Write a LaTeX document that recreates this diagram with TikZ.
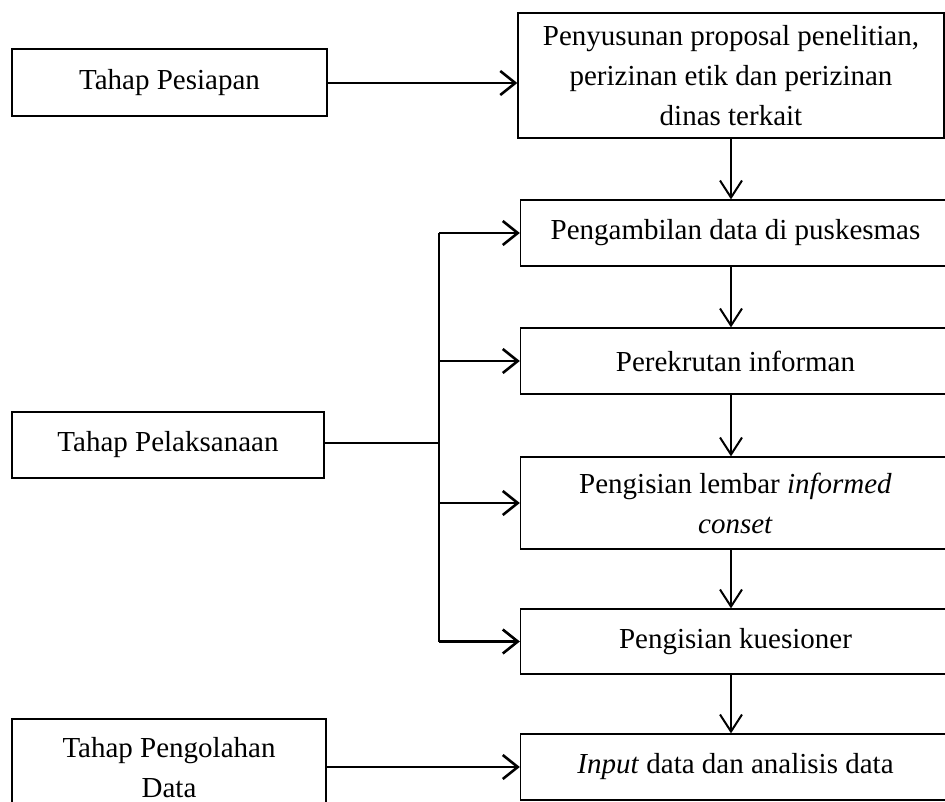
\documentclass[tikz,border=0pt]{standalone}
\usepackage{fontspec}
\setmainfont{Liberation Serif}
\usetikzlibrary{arrows.meta, positioning}

\tikzset{
	box/.style={draw, line width=1.3pt, inner sep=0pt, align=center,
		font=\fontsize{29}{40}\selectfont},
	arr/.style={line width=2.6pt, -{Straight Barb[length=15pt, width=24pt, line width=2.6pt]}},
	varr/.style={line width=2pt, -{Straight Barb[length=17pt, width=22pt, line width=2pt]}}
}

\begin{document}
\begin{tikzpicture}[x=1pt, y=-1pt]
	\useasboundingbox (0,0) rectangle (945,801);

	% tahap
	\node[box, minimum width=315pt, minimum height=67pt] (pesiapan) 	at (169.5,82.5) {Tahap Pesiapan};
	\node[box, minimum width=312pt, minimum height=66pt] (pelaksanaan) 	at (168,445) {Tahap Pelaksanaan};
	\node[box, minimum width=314pt, minimum height=98pt] (pengolahan) 	at (169,768) {Tahap Pengolahan\\Data};

	% kegiatan
	\node[box, minimum width=426pt, minimum height=125pt] (penyusunan) 	at (731,75.5) {Penyusunan proposal penelitian,\\perizinan etik dan perizinan\\dinas terkait};
	\node[box, minimum width=430pt, minimum height=66pt] (pengambilan) 	at (735.5,233) {Pengambilan data di puskesmas};
	\node[box, minimum width=430pt, minimum height=66pt] (perekrutan) 	at (735.5,361) {Perekrutan informan};
	\node[box, minimum width=430pt, minimum height=92pt] (lembar) 		at (735.5,503) {Pengisian lembar \textit{informed}\\\textit{conset}};
	\node[box, minimum width=430pt, minimum height=65pt] (kuesioner) 	at (735.5,641.5) {Pengisian kuesioner};
	\node[box, minimum width=430pt, minimum height=66pt] (input) 		at (735.5,767) {\textit{Input} data dan analisis data};

	\coordinate (branch) at (439,443);

	\path[arr] (pesiapan.east |- 0,83) edge (penyusunan.west |- 0,83);
	\path[arr] (pengolahan.east |- input) edge (input.west);

	\draw[line width=2.6pt] (pelaksanaan.east |- branch) -- (branch);
	\draw[line width=2.6pt] (branch |- pengambilan) -- (branch |- kuesioner);
	\foreach \n in {pengambilan, perekrutan, lembar, kuesioner}
		\path[arr] (branch |- \n) edge (\n.west);

	\foreach \a/\b in {penyusunan/pengambilan, pengambilan/perekrutan, perekrutan/lembar, lembar/kuesioner, kuesioner/input}
		\path[varr] (\a.south -| penyusunan) edge (\b.north -| penyusunan);
\end{tikzpicture}
\end{document}
